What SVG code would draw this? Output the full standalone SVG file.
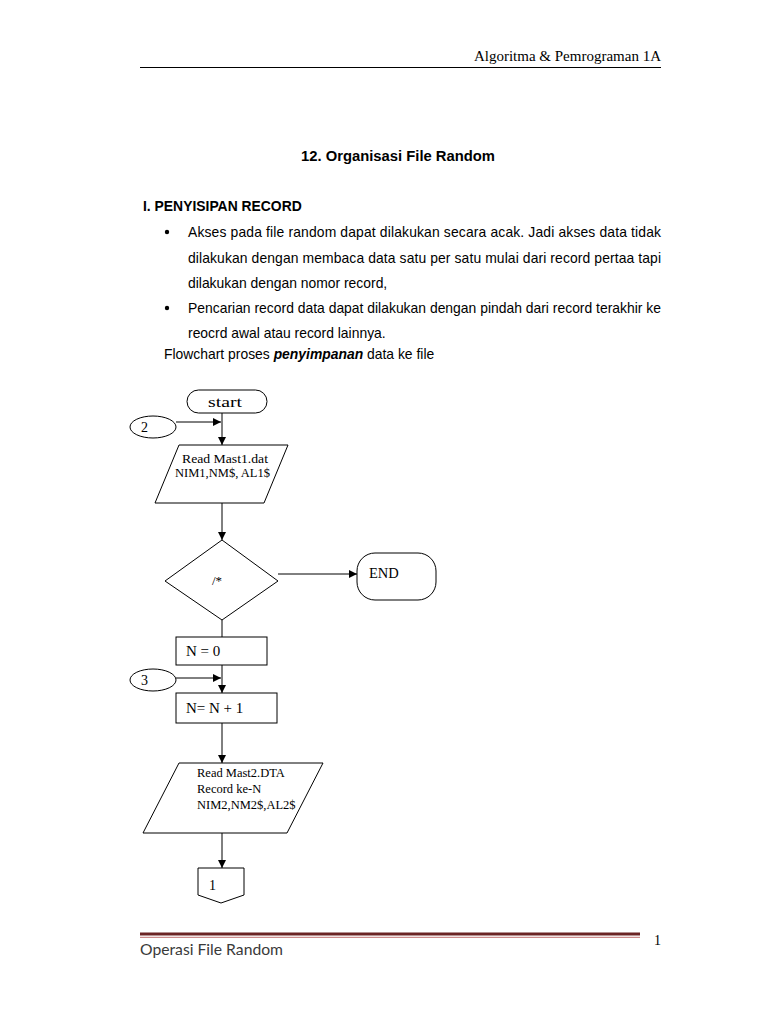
<svg xmlns="http://www.w3.org/2000/svg" width="768" height="1024" viewBox="0 0 768 1024">
<defs>
<style>
.sans{font-family:"Liberation Sans",Arial,sans-serif;font-size:13.9px;fill:#000}
.b{font-weight:bold}
.serif{font-family:"Liberation Serif","Times New Roman",serif;fill:#000}
.shape{fill:#fff;stroke:#000;stroke-width:1}
.ln{stroke:#000;stroke-width:1;fill:none}
</style>
<marker id="ah" viewBox="0 0 10 10" refX="10" refY="5" markerWidth="8" markerHeight="8" markerUnits="userSpaceOnUse" orient="auto">
<path d="M0,0 L10,5 L0,10 z" fill="#000"/>
</marker>
</defs>
<rect width="768" height="1024" fill="#fff"/>
<!-- header -->
<text class="serif" x="661" y="61" font-size="15" text-anchor="end">Algoritma &amp; Pemrograman 1A</text>
<line x1="140" y1="67.5" x2="661" y2="67.5" stroke="#000" stroke-width="1.2"/>
<!-- body text -->
<text class="sans b" x="398" y="161" font-size="15" text-anchor="middle" textLength="194" lengthAdjust="spacingAndGlyphs">12. Organisasi File Random</text>
<text class="sans b" x="143" y="211" font-size="13.7">I. PENYISIPAN RECORD</text>
<circle cx="167" cy="232" r="2.2" fill="#000"/>
<text class="sans" x="188" y="237" textLength="473" lengthAdjust="spacing">Akses pada file random dapat dilakukan secara acak. Jadi akses data tidak</text>
<text class="sans" x="188" y="263" textLength="473" lengthAdjust="spacing">dilakukan dengan membaca data satu per satu mulai dari record pertaa tapi</text>
<text class="sans" x="188" y="288">dilakukan dengan nomor record,</text>
<circle cx="167" cy="308" r="2.2" fill="#000"/>
<text class="sans" x="188" y="313" textLength="473" lengthAdjust="spacing">Pencarian record data dapat dilakukan dengan pindah dari record terakhir ke</text>
<text class="sans" x="188" y="338">reocrd awal atau record lainnya.</text>
<text class="sans" x="164" y="359">Flowchart proses <tspan font-weight="bold" font-style="italic">penyimpanan</tspan> data ke file</text>
<!-- connectors -->
<g id="connectors">
<line class="ln" x1="222" y1="413" x2="222" y2="445" marker-end="url(#ah)"/>
<line class="ln" x1="176" y1="422" x2="221" y2="422" marker-end="url(#ah)"/>
<line class="ln" x1="222" y1="503" x2="222" y2="540" marker-end="url(#ah)"/>
<line class="ln" x1="278" y1="574" x2="357" y2="574" marker-end="url(#ah)"/>
<line class="ln" x1="222" y1="620" x2="222" y2="637"/>
<line class="ln" x1="222" y1="665" x2="222" y2="693" marker-end="url(#ah)"/>
<line class="ln" x1="176" y1="678" x2="221" y2="678" marker-end="url(#ah)"/>
<line class="ln" x1="222" y1="723" x2="222" y2="763" marker-end="url(#ah)"/>
<line class="ln" x1="222" y1="833" x2="222" y2="868" marker-end="url(#ah)"/>
</g>
<!-- nodes -->
<g id="start">
<rect class="shape" x="187" y="390" width="80" height="23" rx="11.5"/>
<text class="serif" x="208" y="407" font-size="15" textLength="34" lengthAdjust="spacingAndGlyphs">start</text>
</g>
<g id="conn2">
<ellipse class="shape" cx="153" cy="427" rx="23" ry="11"/>
<text class="serif" x="141" y="432" font-size="14">2</text>
</g>
<g id="read1">
<polygon class="shape" points="179,445 288,445 264,503 155,503"/>
<text class="serif" x="182" y="463" font-size="13" textLength="86" lengthAdjust="spacingAndGlyphs">Read Mast1.dat</text>
<text class="serif" x="175" y="477" font-size="13" textLength="95" lengthAdjust="spacingAndGlyphs">NIM1,NM$, AL1$</text>
</g>
<g id="decision">
<polygon class="shape" points="222,540 278,581 222,620 165,581"/>
<text class="serif" x="212" y="585" font-size="13">/*</text>
</g>
<g id="end">
<rect class="shape" x="357" y="553" width="79" height="47" rx="18"/>
<text class="serif" x="369" y="578" font-size="14.5">END</text>
</g>
<g id="n0">
<rect class="shape" x="176" y="637" width="91" height="28"/>
<text class="serif" x="186" y="656" font-size="15">N = 0</text>
</g>
<g id="conn3">
<ellipse class="shape" cx="153" cy="680" rx="23" ry="11"/>
<text class="serif" x="141" y="685" font-size="14">3</text>
</g>
<g id="ninc">
<rect class="shape" x="176" y="693" width="101" height="30"/>
<text class="serif" x="186" y="713" font-size="15">N= N + 1</text>
</g>
<g id="read2">
<polygon class="shape" points="179,763 323,763 287,833 143,833"/>
<text class="serif" x="197" y="777" font-size="12.5">Read Mast2.DTA</text>
<text class="serif" x="197" y="793" font-size="12.5">Record ke-N</text>
<text class="serif" x="197" y="809" font-size="12.5">NIM2,NM2$,AL2$</text>
</g>
<g id="offpage1">
<polygon class="shape" points="198,868 244,868 244,895 221,903 198,895"/>
<text class="serif" x="209" y="890" font-size="14">1</text>
</g>
<!-- footer -->
<line x1="140" y1="934" x2="640" y2="934" stroke="#6b2323" stroke-width="3"/>
<line x1="140" y1="937.3" x2="640" y2="937.3" stroke="#b04a4a" stroke-width="0.8"/>
<text class="serif" x="661" y="945" font-size="14" text-anchor="end">1</text>
<text x="140" y="955" font-family="Lato,'Open Sans',sans-serif" font-size="15" fill="#3a3a3a" textLength="143" lengthAdjust="spacingAndGlyphs">Operasi File Random</text>
</svg>
